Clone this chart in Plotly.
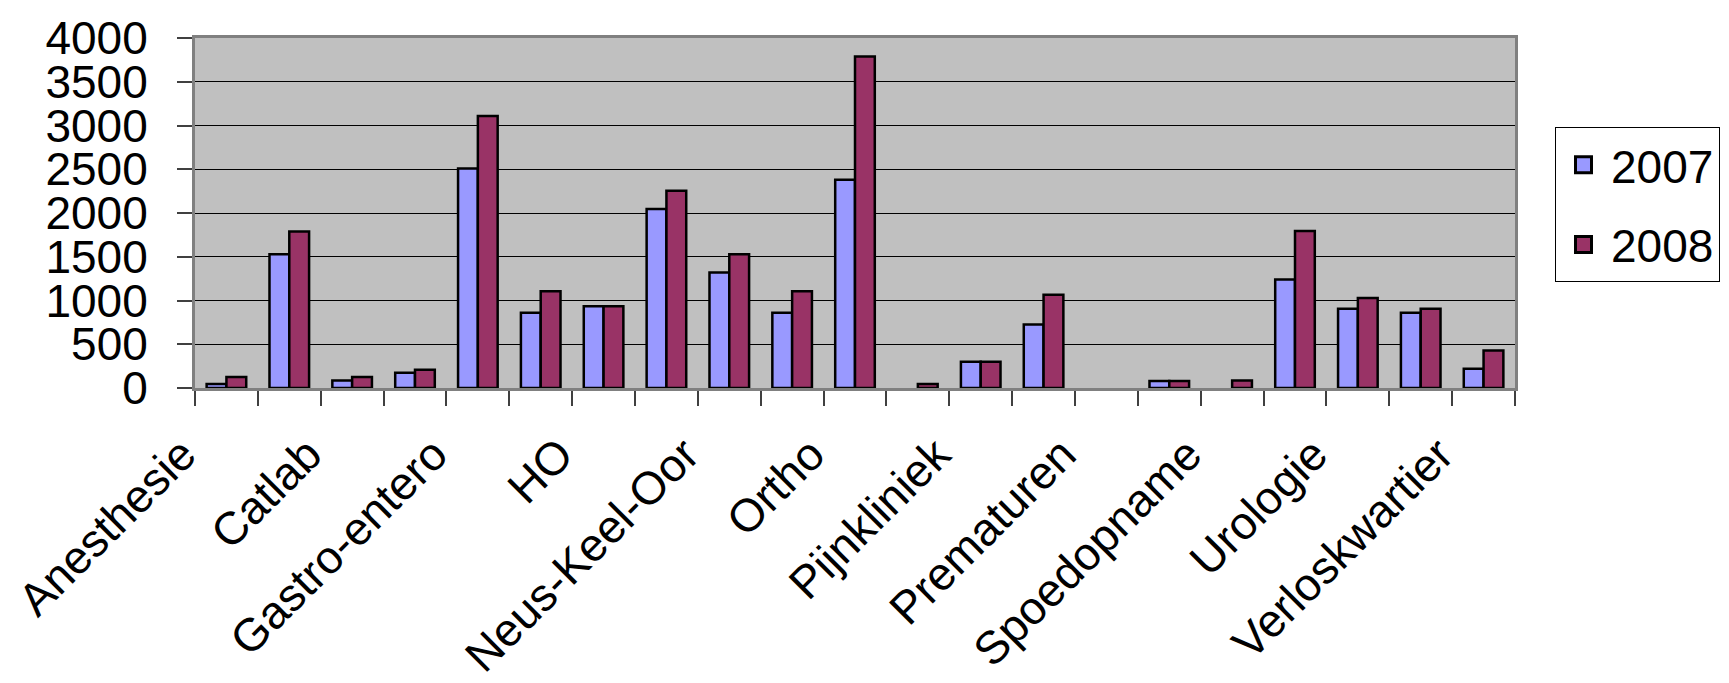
import plotly.graph_objects as go

# 21 departments on the category axis; only every other one is labelled
category_index = list(range(21))
tick_positions = [0, 2, 4, 6, 8, 10, 12, 14, 16, 18, 20]
tick_labels = ["Anesthesie", "Catlab", "Gastro-entero", "HO", "Neus-Keel-Oor",
               "Ortho", "Pijnkliniek", "Prematuren", "Spoedopname", "Urologie",
               "Verloskwartier"]

# None = empty cell (no bar drawn)
values_2007 = [45, 1530, 85, 175, 2510, 860, 935, 2045, 1320, 860, 2380,
               None, 300, 725, None, 80, None, 1240, 905, 860, 220]
values_2008 = [125, 1790, 125, 210, 3110, 1105, 935, 2255, 1530, 1105, 3790,
               45, 300, 1065, None, 80, 85, 1795, 1030, 905, 430]

series_names = ["2007", "2008"]
series_colors = ["#9999FF", "#993366"]

FONT = "Liberation Sans, Arial, sans-serif"

fig = go.Figure()
for name, vals, col in zip(series_names, [values_2007, values_2008], series_colors):
    fig.add_trace(go.Bar(
        x=category_index, y=vals, name=name, legendgroup=name, showlegend=False,
        marker=dict(color=col, line=dict(color="black", width=2.5)),
    ))
# legend entries with larger square swatches
for name, col in zip(series_names, series_colors):
    fig.add_trace(go.Scatter(
        x=[None], y=[None], mode="markers", name=name, legendgroup=name,
        marker=dict(symbol="square", size=16, color=col,
                    line=dict(color="black", width=3)),
    ))

fig.update_layout(
    width=1729, height=683,
    margin=dict(l=187, r=222, t=30, b=303, autoexpand=False),
    paper_bgcolor="white", plot_bgcolor="#C0C0C0",
    barmode="group", bargap=0.37, bargroupgap=0.0,
    font=dict(family=FONT, size=46, color="black"),
    showlegend=True,
    legend=dict(x=1.0303, y=0.745, xanchor="left", yanchor="top",
                bgcolor="white", bordercolor="black", borderwidth=1,
                font=dict(family=FONT, size=46, color="black"),
                tracegroupgap=17, traceorder="grouped", itemwidth=45),
    xaxis=dict(
        range=[-0.5, 20.5], tickmode="array", tickvals=tick_positions,
        ticktext=tick_labels, tickangle=-45, ticks="",
        showgrid=False, zeroline=False,
        showline=True, mirror=True, linecolor="#808080", linewidth=3,
        minor=dict(tickmode="linear", tick0=-0.5, dtick=1, ticks="outside",
                   ticklen=15, tickwidth=1.5, tickcolor="#404040", showgrid=False),
        automargin=False, ticklabelstandoff=18, ticklabelshift=-44,
        tickfont=dict(family=FONT, size=46, color="black"),
    ),
    yaxis=dict(
        range=[0, 4000], tickmode="linear", tick0=0, dtick=500,
        ticks="outside", ticklen=15, tickwidth=1.5, tickcolor="#404040",
        showgrid=True, gridcolor="black", gridwidth=1, zeroline=False,
        showline=True, mirror=True, linecolor="#808080", linewidth=3,
        automargin=False, ticklabelstandoff=20,
        tickfont=dict(family=FONT, size=46, color="black"),
    ),
)

fig.write_html("out.html")
